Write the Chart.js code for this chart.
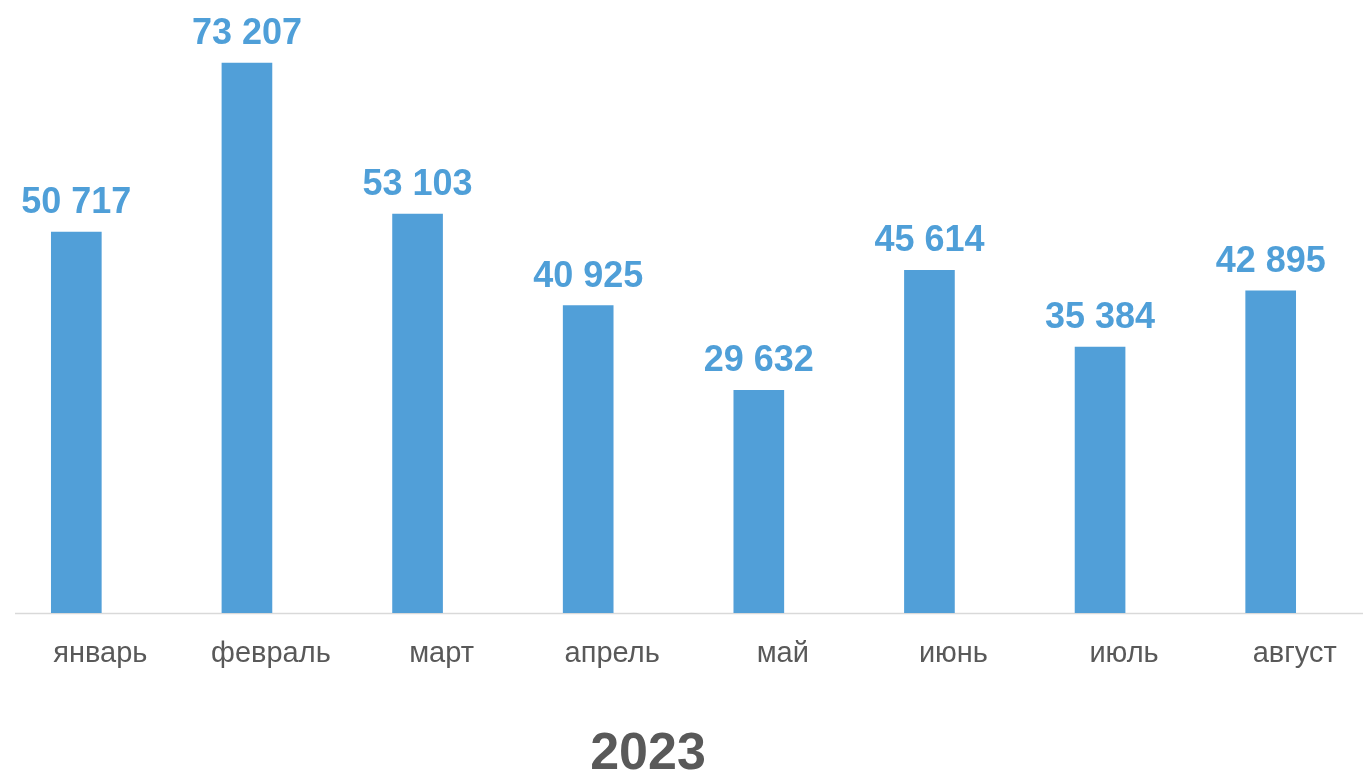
<!DOCTYPE html>
<html>
<head>
<meta charset="utf-8">
<script src="https://cdn.jsdelivr.net/npm/chart.js@4"></script>
<style>
  html, body { margin: 0; padding: 0; background: #fff; overflow: hidden; }
  body { width: 1363px; height: 771px; position: relative; }
  #wrap { position: absolute; left: -24px; top: 0; width: 1390px; height: 771px; }
  #yearTitle {
    position: absolute; left: 548px; width: 200px; top: 721px;
    text-align: center; font: bold 52px "Liberation Sans", Arial, sans-serif; color: #595959;
  }
</style>
</head>
<body>
<div id="wrap"><canvas id="chart"></canvas></div>
<div id="yearTitle">2023</div>
<script>
// данные
const months = ["январь", "февраль", "март", "апрель", "май", "июнь", "июль", "август"];
const values = [50717, 73207, 53103, 40925, 29632, 45614, 35384, 42895];
const barColor = "#519fd8";

// подписи значений над столбцами
const valueLabels = {
    id: "valueLabels",
    afterDatasetsDraw(chart) {
        const { ctx } = chart;
        const meta = chart.getDatasetMeta(0);
        ctx.save();
        ctx.font = "bold 36px 'Liberation Sans', Arial, sans-serif";
        ctx.fillStyle = "#4f9fd8";
        ctx.textAlign = "center";
        ctx.textBaseline = "alphabetic";
        meta.data.forEach((bar, i) => {
            const txt = values[i].toLocaleString("ru-RU").replace(/\s/g, " ");
            ctx.fillText(txt, bar.x, bar.y - 19);
        });
        ctx.restore();
    },
};

// базовая линия оси
const baseLine = {
    id: "baseLine",
    beforeDatasetsDraw(chart) {
        const { ctx, chartArea } = chart;
        ctx.save();
        ctx.strokeStyle = "#d9d9d9";
        ctx.lineWidth = 1.5;
        ctx.beginPath();
        ctx.moveTo(39, chartArea.bottom + 0.5);
        ctx.lineTo(chart.width, chartArea.bottom + 0.5);
        ctx.stroke();
        ctx.restore();
    },
};

new Chart(document.getElementById("chart"), {
    type: "bar",
    data: {
        labels: months,
        datasets: [{
            data: values,
            backgroundColor: barColor,
            barThickness: 50,
        }],
    },
    options: {
        responsive: true,
        maintainAspectRatio: false,
        animation: false,
        layout: { padding: { left: 15, right: 10, top: 12, bottom: 0 } },
        plugins: { legend: { display: false }, tooltip: { enabled: false }, title: { display: false } },
        scales: {
            y: { display: false, min: 0, max: 80000 },
            x: {
                grid: { display: false },
                border: { display: false },
                ticks: {
                    color: "#595959",
                    padding: 16,
                    labelOffset: 24,
                    font: { family: "'Liberation Sans', Arial, sans-serif", size: 29 },
                    maxRotation: 0,
                },
                afterFit(scale) { scale.height = 158; },
            },
        },
    },
    plugins: [valueLabels, baseLine],
});
</script>
</body>
</html>
